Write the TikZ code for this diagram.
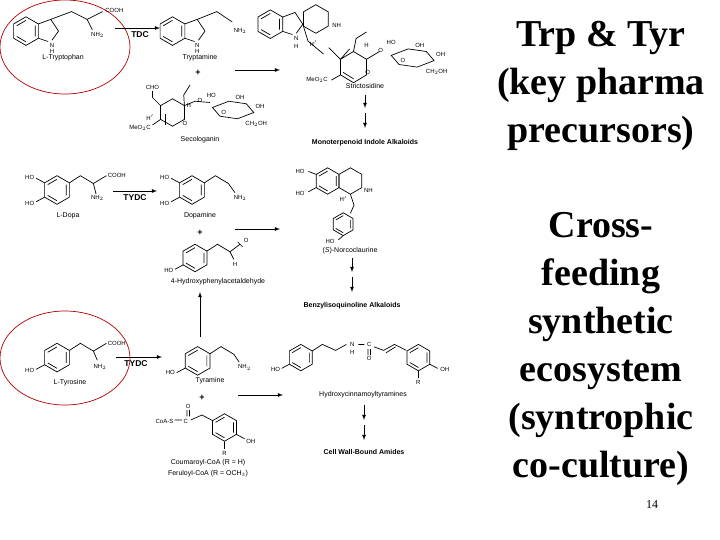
\documentclass[tikz,border=0pt]{standalone}
\usepackage{fontspec}
\setmainfont{Liberation Serif}
\setsansfont{Liberation Sans}
\newcommand\hexa[3]{\draw[bond] (#1,#2) +(30:#3) -- +(90:#3) -- +(150:#3) -- +(210:#3) -- +(270:#3) -- +(330:#3) -- cycle;}
\newcommand\arom[3]{\hexa{#1}{#2}{#3}\draw[bond] (#1,#2) +(90:0.75*#3) -- +(150:0.75*#3) +(210:0.75*#3) -- +(270:0.75*#3) +(330:0.75*#3) -- +(30:0.75*#3);}
\newcommand\sugarring[2]{\draw[bond] (#1,#2) -- ++(13,-5) -- ++(14,2) -- ++(6,7) -- ++(-13,5) -- ++(-14,-2) -- cycle;}
\begin{document}
\begin{tikzpicture}[x=1pt,y=-1pt,
 bond/.style={line width=0.7pt},
 lab/.style={font=\sffamily\fontsize{6}{6}\selectfont,inner sep=0.3pt},
 cname/.style={font=\sffamily\fontsize{7}{7}\selectfont,inner sep=1pt},
 bname/.style={font=\sffamily\bfseries\fontsize{7}{7}\selectfont,inner sep=1pt},
 enz/.style={font=\sffamily\bfseries\fontsize{8.5}{8.5}\selectfont,inner sep=1pt},
 rxn/.style={-latex,line width=0.8pt},
 big/.style={font=\bfseries\fontsize{38}{48}\selectfont,align=center},
 ring/.style={draw=red!70!black,line width=0.7pt},
 mol/.style args={#1,#2,#3}{shift={(#1,#2)},scale=#3,shift={(-#1,-#2)}}]
\useasboundingbox (0,0) rectangle (720,540);
\fill[white] (0,0) rectangle (720,540);

% ---------- Row 1: Trp ----------
\begin{scope}[mol={65,22,1.3}]
\arom{35}{29}{11}
\draw[bond] (44.5,23.5) -- (54,20) -- (60,29) -- (55,36) (44.5,34.5) -- (52,37) (54,20) -- (70,14) -- (82,20) -- (94,14) (82,20) -- (86,28);
\node[lab] (trpN) at (55,40) {N}; \node[lab] at (55,45) {H};
\node[lab] (trpCOOH) at (103,13) {COOH};
\node[lab] at (90,32) {NH$_2$};
\end{scope}
\node[cname] (trp) at (63,58) {L-Tryptophan};
\draw[ring] (65,47) ellipse (65 and 47);

\begin{scope}[mol={205,22,1.3}]
\arom{180}{29}{11}
\draw[bond] (189.5,23.5) -- (199,20) -- (205,29) -- (200,36) (189.5,34.5) -- (197,37) (199,20) -- (214,14) -- (226,22);
\node[lab] at (199,40) {N}; \node[lab] at (199,45) {H};
\node[lab] at (232,29) {NH$_2$};
\end{scope}
\node[cname] (tryptamine) at (200,58) {Tryptamine};
\coordinate (a1s) at (115,28); \coordinate (a1e) at (160,28);
\draw[rxn] (a1s) -- (a1e);
\node[enz] (tdc) at (140,35) {TDC};

\node[font=\sffamily\bfseries\fontsize{9}{9}\selectfont] (plus1) at (198,73) {+};
% secologanin
\begin{scope}[mol={200,110,1.25}]
\hexa{178}{112}{11}
\draw[bond] (172.5,113) -- (172.5,122);
\draw[bond] (168.5,106.5) -- (162,100) -- (162,95) (187.5,106.5) -- (187,98) -- (192,90) (187.5,106.5) -- (196,103) -- (208,104) (168.5,117.5) -- (162,122);
\node[lab] at (162,92) {CHO};
\node[lab] at (160,116) {H$'$};
\node[lab] at (191,106) {H};
\node[lab] at (188,121) {O};
\node[lab] at (152,124) {MeO$_2$C};
\node[lab] at (200,102) {O};
\sugarring{210}{108}
\node[lab] at (209,98) {HO}; \node[lab] at (232,100) {OH}; \node[lab] at (248,107) {OH}; \node[lab] at (245,121) {CH$_2$OH}; \node[lab] at (219,112) {O};
\end{scope}
\node[cname] (secologanin) at (200,140) {Secologanin};

\coordinate (a2s) at (235,70); \coordinate (a2e) at (280,70);
\draw[rxn] (a2s) -- (a2e);

% strictosidine
\begin{scope}[mol={360,45,1.3}]
\arom{291}{29}{11}
\draw[bond] (300.5,23.5) -- (310,20) -- (316,29) -- (311,36) (300.5,34.5) -- (308,37);
\hexa{326}{25}{11}
\draw[bond] (316,29) -- (320,42) -- (332,52) (352,48) -- (345,56) (345,56) -- (345,68) -- (355,74) -- (365,68) -- (365,56) -- (355,50) -- (345,56) (347,66) -- (355,71) (365,56) -- (375,50) (355,50) -- (357,40) -- (365,35) (336,47) -- (345,56) (345,68) -- (338,72);
\node[lab] at (311,40) {N}; \node[lab] at (311,46) {H};
\node[lab] at (342,30) {NH};
\node[lab] at (324,44) {H$'$};
\node[lab] at (365,45) {H};
\node[lab] at (366,66) {O};
\node[lab] at (327,72) {MeO$_2$C};
\node[lab] at (376,49) {O};
\sugarring{384}{53}
\node[lab] at (384,43) {HO}; \node[lab] at (406,45) {OH}; \node[lab] at (422,52) {OH}; \node[lab] at (419,66) {CH$_2$OH}; \node[lab] at (393,57) {O};
\end{scope}
\node[cname] (strict) at (365,86) {Strictosidine};
\coordinate (d1) at (365,95); \coordinate (d1e) at (365,108);
\coordinate (d2) at (365,113); \coordinate (d2e) at (365,128);
\draw[rxn] (d1) -- (d1e); \draw[rxn] (d2) -- (d2e);
\node[bname] (mia) at (365,143) {Monoterpenoid Indole Alkaloids};

% ---------- Row 2: Dopa ----------
\begin{scope}[mol={70,190,1.3}]
\arom{60}{190}{11}
\draw[bond] (69.5,184.5) -- (78,179) -- (88,185) -- (98,179) (88,185) -- (90,193) (50.5,184.5) -- (44,181) (50.5,195.5) -- (44,199);
\node[lab] at (39,180) {HO}; \node[lab] at (39,200) {HO};
\node[lab] at (106,179) {COOH}; \node[lab] at (91,196) {NH$_2$};
\end{scope}
\node[cname] (dopa) at (68,216) {L-Dopa};
\coordinate (a3s) at (113,191); \coordinate (a3e) at (157,191);
\draw[rxn] (a3s) -- (a3e);
\node[enz] (tydc1) at (135,198) {TYDC};

\begin{scope}[mol={205,190,1.3}]
\arom{195}{190}{11}
\draw[bond] (204.5,184.5) -- (213,179) -- (223,185) -- (228,192) (185.5,184.5) -- (179,181) (185.5,195.5) -- (179,199);
\node[lab] at (174,180) {HO}; \node[lab] at (174,200) {HO};
\node[lab] at (232,196) {NH$_2$};
\end{scope}
\node[cname] (dopamine) at (200,216) {Dopamine};
\node[font=\sffamily\bfseries\fontsize{9}{9}\selectfont] (plus2) at (200,233) {+};
\begin{scope}[mol={205,258,1.25}]
\arom{197}{258}{11}
\draw[bond] (206.5,252.5) -- (215,247) -- (225,253) -- (233,247) (231,245) -- (235,249) (225,253) -- (228,259) (187.5,263.5) -- (181,267);
\node[lab] at (238,244) {O}; \node[lab] at (229,263) {H}; \node[lab] at (176,268) {HO};
\end{scope}
\node[cname] (hpaa) at (218,282) {4-Hydroxyphenylacetaldehyde};
\coordinate (a4s) at (235,229); \coordinate (a4e) at (280,229);
\draw[rxn] (a4s) -- (a4e);

% norcoclaurine
\begin{scope}[mol={342,205,1.2}]
\arom{330}{185}{11}
\hexa{349}{185}{11}
\draw[bond] (320.5,179.5) -- (314,177) (320.5,190.5) -- (314,194) (349,196) -- (352,205) -- (349,212);
\node[lab] at (307,177) {HO}; \node[lab] at (307,195) {HO};
\node[lab] at (364,193) {NH}; \node[lab] at (343,200) {H$'$};
\arom{343}{221}{9.5}
\draw[bond] (343,230.5) -- (339,234);
\node[lab] at (332,235) {HO};
\end{scope}
\node[cname] (norco) at (350,251) {(\textit{S})-Norcoclaurine};
\coordinate (d3) at (352,258); \coordinate (d3e) at (352,272);
\coordinate (d4) at (352,277); \coordinate (d4e) at (352,292);
\draw[rxn] (d3) -- (d3e); \draw[rxn] (d4) -- (d4e);
\node[bname] (bia) at (352,306) {Benzylisoquinoline Alkaloids};

% ---------- Row 3: Tyr ----------
\begin{scope}[mol={70,355,1.3}]
\arom{60}{357}{11}
\draw[bond] (69.5,351.5) -- (78,346) -- (88,352) -- (98,346) (88,352) -- (91,359) (50.5,362.5) -- (44,366);
\node[lab] at (39,367) {HO};
\node[lab] at (106,346) {COOH}; \node[lab] at (93,364) {NH$_2$};
\end{scope}
\node[cname] (tyr) at (70,383) {L-Tyrosine};
\draw[ring] (65,358) ellipse (65 and 47);
\coordinate (a5s) at (116,357); \coordinate (a5e) at (162,357);
\draw[rxn] (a5s) -- (a5e);
\node[enz] (tydc2) at (136,364) {TYDC};

\begin{scope}[mol={208,357,1.3}]
\arom{200}{360}{11}
\draw[bond] (209.5,354.5) -- (218,349) -- (228,355) -- (232,361) (190.5,365.5) -- (184,369);
\node[lab] at (179,369) {HO}; \node[lab] at (236,365) {NH$_2$};
\end{scope}
\node[cname] (tyramine) at (210,381) {Tyramine};
\coordinate (u1) at (200,337); \coordinate (u1e) at (200,292);
\draw[rxn] (u1) -- (u1e);
\node[font=\sffamily\bfseries\fontsize{9}{9}\selectfont] (plus3) at (202,398) {+};
% coumaroyl-CoA
\begin{scope}[mol={212,430,1.25}]
\arom{222}{428}{11}
\draw[bond] (212.5,422.5) -- (204,418) -- (195,422) (192,419) -- (192,414) (194,419) -- (194,414) (182,422) -- (188,422) (231.5,433.5) -- (238,437) (222,439) -- (222,445);
\node[lab] at (193,411) {O}; \node[lab] at (191,423) {C}; \node[lab] at (174,423) {CoA-S};
\node[lab] at (243,439) {OH}; \node[lab] at (222,449) {R};
\end{scope}
\node[cname] (coum) at (208,463) {Coumaroyl-CoA (R = H)};
\node[cname] (ferul) at (208,474) {Feruloyl-CoA (R = OCH$_3$)};
\coordinate (a6s) at (238,395); \coordinate (a6e) at (283,395);
\draw[rxn] (a6s) -- (a6e);

% hydroxycinnamoyltyramines
\begin{scope}[mol={362,360,1.2}]
\arom{311}{358}{11}
\draw[bond] (320.5,352.5) -- (329,347) -- (340,352) -- (349,347) (359,347) -- (364,347) (372,349) -- (380,352) -- (389,347) (382,354) -- (390,349) (389,347) -- (399,352) (301.5,363.5) -- (295,367) (369,351) -- (369,356) (367,351) -- (367,356);
\arom{409}{358}{11}
\draw[bond] (418.5,363.5) -- (425,367) (409,369) -- (409,375);
\node[lab] at (354,347) {N}; \node[lab] at (354,354) {H}; \node[lab] at (368,347) {C}; \node[lab] at (368,359) {O};
\node[lab] at (290,368) {HO}; \node[lab] at (431,368) {OH}; \node[lab] at (409,379) {R};
\end{scope}
\node[cname] (hct) at (363,395) {Hydroxycinnamoyltyramines};
\coordinate (d5) at (364,405); \coordinate (d5e) at (364,420);
\coordinate (d6) at (364,425); \coordinate (d6e) at (364,440);
\draw[rxn] (d5) -- (d5e); \draw[rxn] (d6) -- (d6e);
\node[bname] (cwa) at (364,452) {Cell Wall-Bound Amides};

% ---------- right text ----------
\node[big] (t1) at (601,86) {Trp \& Tyr\\(key pharma\\precursors)};
\node[big] (t2) at (601,349) {Cross-\\feeding\\synthetic\\ecosystem\\(syntrophic\\co-culture)};
\node[font=\fontsize{12}{12}\selectfont] (pg) at (652,505) {14};
\end{tikzpicture}
\end{document}
